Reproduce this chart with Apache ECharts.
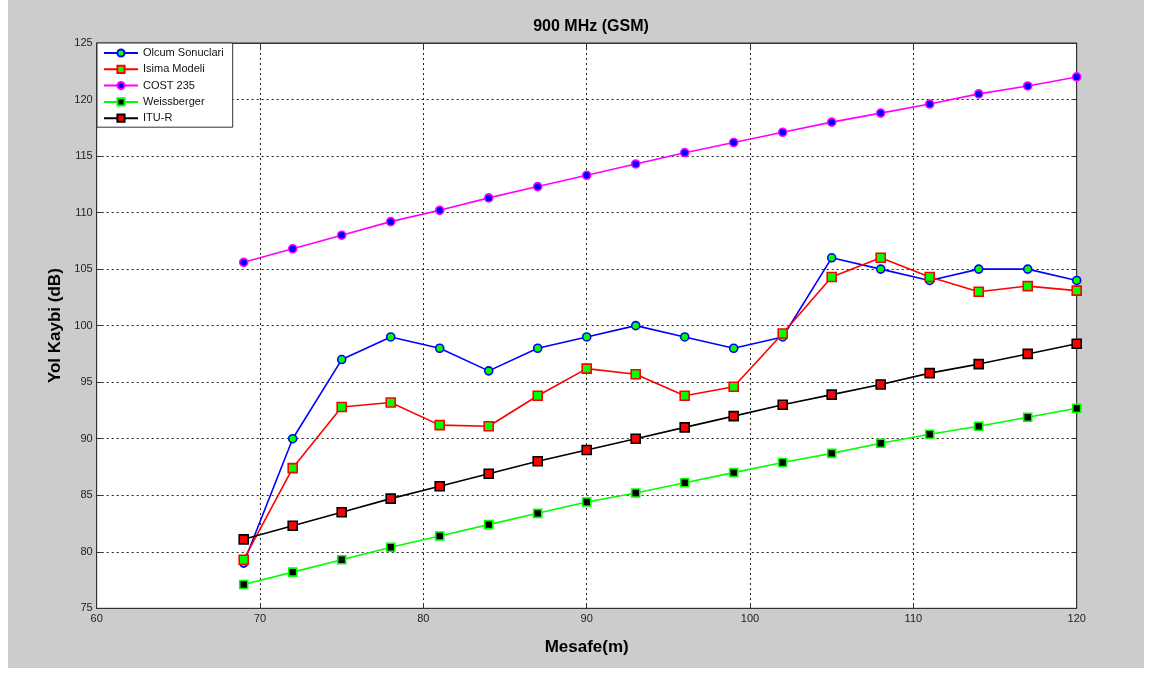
<!DOCTYPE html>
<html>
<head>
<meta charset="utf-8">
<script src="https://cdn.jsdelivr.net/npm/echarts@6/dist/echarts.min.js"></script>
<style>
html,body{margin:0;padding:0;background:#fff;}
#bg{position:absolute;left:8px;top:0;width:1136px;height:668px;background:#cccccc;}
#chart{position:absolute;left:0;top:0;width:1154px;height:675px;}
</style>
</head>
<body>
<div id="bg"></div>
<div id="chart"></div>
<script>
const distances = [69,72,75,78,81,84,87,90,93,96,99,102,105,108,111,114,117,120];
const olcum = [79,90,97,99,98,96,98,99,100,99,98,99,106,105,104,105,105,104];
const isima = [79.3,87.4,92.8,93.2,91.2,91.1,93.8,96.2,95.7,93.8,94.6,99.3,104.3,106.0,104.3,103.0,103.5,103.1];
const cost235 = [105.6,106.8,108.0,109.2,110.2,111.3,112.3,113.3,114.3,115.3,116.2,117.1,118.0,118.8,119.6,120.5,121.2,122.0];
const weissberger = [77.1,78.2,79.3,80.4,81.4,82.4,83.4,84.4,85.2,86.1,87.0,87.9,88.7,89.6,90.4,91.1,91.9,92.7];
const itur = [81.1,82.3,83.5,84.7,85.8,86.9,88.0,89.0,90.0,91.0,92.0,93.0,93.9,94.8,95.8,96.6,97.5,98.4];
const seriesNames = ['Olcum Sonuclari','Isima Modeli','COST 235','Weissberger','ITU-R'];
const xTicks = [60,70,80,90,100,110,120];
const yTicks = [75,80,85,90,95,100,105,110,115,120,125];

function pairs(vals){ return distances.map((d,i)=>[d,vals[i]]); }
const font = 'Liberation Sans, Arial, sans-serif';

function mk(name, vals, lineColor, symbol, size, fill, border){
  return {
    name, type:'line', data:pairs(vals), symbol, symbolSize:size,
    showAllSymbol:true,
    lineStyle:{color:lineColor,width:1.6},
    itemStyle:{color:fill,borderColor:border,borderWidth:1.6},
    emphasis:{disabled:true}, animation:false
  };
}

const chart = echarts.init(document.getElementById('chart'));
chart.setOption({
  backgroundColor:'transparent',
  animation:false,
  title:{text:'900 MHz (GSM)',left:586,top:14,textAlign:'center',
    textStyle:{fontFamily:font,fontSize:16,fontWeight:'bold',color:'#000'}},
  legend:{
    orient:'vertical',left:97,top:43,
    backgroundColor:'#fff',borderColor:'#333',borderWidth:1,borderRadius:0,
    padding:[4,9,3,6],itemWidth:34,itemHeight:9,itemGap:4.3,
    textStyle:{fontFamily:font,fontSize:11,color:'#111',lineHeight:12},
    data:seriesNames
  },
  grid:{left:96.7,right:77.3,top:43,bottom:66.7,show:true,backgroundColor:'#fff',borderColor:'#333',borderWidth:1},
  xAxis:[{
    type:'value',min:xTicks[0],max:xTicks[xTicks.length-1],interval:10,
    name:'Mesafe(m)',nameLocation:'middle',nameGap:31,
    nameTextStyle:{fontFamily:font,fontSize:17,fontWeight:'bold',color:'#000'},
    axisLine:{lineStyle:{color:'#333'}},
    axisTick:{inside:true,length:5,lineStyle:{color:'#333'}},
    axisLabel:{fontFamily:font,fontSize:11,color:'#222',margin:5},
    splitLine:{show:true,lineStyle:{color:'#222',type:[2,3],width:1}}
  },{
    type:'value',position:'top',min:60,max:120,interval:10,
    axisLine:{show:true,lineStyle:{color:'#333'}},
    axisTick:{show:true,inside:true,length:5,lineStyle:{color:'#333'}},
    axisLabel:{show:false},splitLine:{show:false}
  }],
  yAxis:[{
    type:'value',min:yTicks[0],max:yTicks[yTicks.length-1],interval:5,
    name:'Yol Kaybi (dB)',nameLocation:'middle',nameGap:28,
    nameTextStyle:{fontFamily:font,fontSize:17,fontWeight:'bold',color:'#000'},
    axisLine:{show:true,lineStyle:{color:'#333'}},
    axisTick:{show:true,inside:true,length:5,lineStyle:{color:'#333'}},
    axisLabel:{fontFamily:font,fontSize:11,color:'#222',margin:4},
    splitLine:{show:true,lineStyle:{color:'#222',type:[2,3],width:1}}
  },{
    type:'value',position:'right',min:75,max:125,interval:5,
    axisLine:{show:true,lineStyle:{color:'#333'}},
    axisTick:{show:true,inside:true,length:5,lineStyle:{color:'#333'}},
    axisLabel:{show:false},splitLine:{show:false}
  }],
  series:[
    mk(seriesNames[0],olcum,'#0000ff','circle',8,'#00ff00','#0000ff'),
    mk(seriesNames[1],isima,'#ff0000','rect',9,'#00ff00','#ff0000'),
    mk(seriesNames[2],cost235,'#ff00ff','circle',8,'#0000ff','#ff00ff'),
    mk(seriesNames[3],weissberger,'#00ff00','rect',8,'#000000','#00ff00'),
    mk(seriesNames[4],itur,'#000000','rect',9,'#ff0000','#000000')
  ]
});
</script>
</body>
</html>
